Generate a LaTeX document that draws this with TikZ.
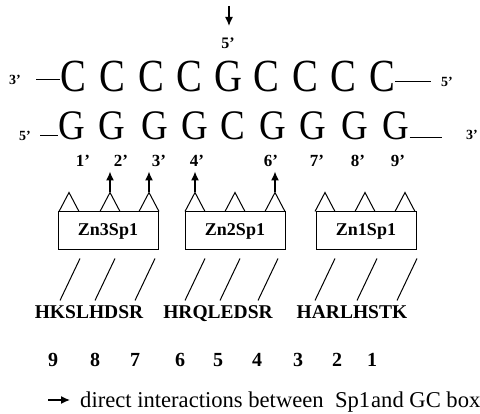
\documentclass[tikz,border=0pt]{standalone}
\usepackage{fontspec}
\setmainfont{Liberation Serif}
\usetikzlibrary{arrows.meta}
\tikzset{
  base/.style={inner sep=0pt, anchor=base, font=\fontsize{46}{46}\selectfont},
  baselow/.style={inner sep=0pt, anchor=base, font=\fontsize{42}{42}\selectfont},
  prime/.style={inner sep=0pt, anchor=base, font=\bfseries\fontsize{14}{14}\selectfont},
  poslabel/.style={inner sep=0pt, anchor=base, font=\bfseries\fontsize{17}{17}\selectfont},
  zbox/.style={draw, line width=1pt, minimum width=100pt, minimum height=38pt, inner sep=0pt, font=\bfseries\fontsize{18}{18}\selectfont},
  seq/.style={inner sep=0pt, anchor=base, font=\bfseries\fontsize{19.5}{19.5}\selectfont},
  resnum/.style={inner sep=0pt, anchor=base, font=\bfseries\fontsize{20}{20}\selectfont},
  legend/.style={inner sep=0pt, anchor=base west, font=\fontsize{22.6}{22.6}\selectfont},
  strand/.style={line width=1pt},
  tri/.style={line width=1pt, line join=miter},
  link/.style={line width=1pt},
  contact/.style={line width=1.4pt, -{Latex[length=9pt,width=8pt]}}
}
\begin{document}
\begin{tikzpicture}[x=1pt,y=-1pt]
\useasboundingbox (0,0) rectangle (480,414);
% top arrow and 5'
\coordinate (topA) at (229,6);
\coordinate (topB) at (229,26);
\draw[contact] (topA) -- (topB);
\node[prime, font=\bfseries\fontsize{16}{16}\selectfont] (top5) at (228,49) {5'};
% upper strand
\node[prime] (u3) at (15,85) {3'};
\foreach \x/\l [count=\i] in {73/C,112/C,151/C,189/C,228/G,266/C,305/C,343/C,382/C} {
  \node[base] (u\i) at (\x,92) {\scalebox{0.84}[1]{\l}};
}
\node[prime] (u5) at (447,87) {5'};
\coordinate (ul0) at (36,80);
\draw[strand] (ul0) -- (u1.west |- ul0);
\coordinate (ur0) at (431,82);
\draw[strand] (u9.east |- ur0) -- (ur0);
% lower strand
\node[prime] (l5) at (25,141) {5'};
\foreach \x/\l [count=\i] in {72/G,112/G,155/G,195/G,233/C,273/G,313/G,355/G,396/G} {
  \node[baselow] (l\i) at (\x,140) {\scalebox{0.88}[1]{\l}};
}
\node[prime] (l3) at (472,140) {3'};
\coordinate (ll0) at (40,136);
\draw[strand] (ll0) -- (l1.west |- ll0);
\coordinate (lr0) at (442,138);
\draw[strand] (l9.east |- lr0) -- (lr0);
% positions
\foreach \x/\l in {83/1,121/2,159/3,197/4,271/6,317/7,358/8,398/9} {
  \node[poslabel] (p\l) at (\x,167) {\l'};
}
% boxes
\node[zbox] (b1) at (108,231) {Zn3Sp1};
\node[zbox] (b2) at (235,231) {Zn2Sp1};
\node[zbox] (b3) at (366,231) {Zn1Sp1};
% fingers (triangles)
\foreach \b/\d [count=\k] in {b1/-39,b1/2,b1/41,b2/-40,b2/0,b2/40,b3/-41,b3/-1,b3/39} {
  \coordinate (f\k) at ([xshift=\d pt]\b.north);
  \draw[tri] ([xshift=-10pt]f\k) -- ([yshift=19pt]f\k) -- ([xshift=10pt]f\k);
  \coordinate (apex\k) at ([yshift=19pt]f\k);
}
% contacts
\foreach \k in {2,3,4,6} {
  \coordinate (tip\k) at ([yshift=21pt]apex\k);
  \draw[contact] (apex\k) -- (tip\k);
}
% links
\foreach \b/\d [count=\k] in {b1/-28,b1/7,b1/47,b2/-30,b2/5,b2/43,b3/-31,b3/11,b3/51} {
  \coordinate (la\k) at ([xshift={\d*1pt}, yshift=-8pt]\b.south);
  \coordinate (lb\k) at ([xshift={(\d-20)*1pt}, yshift=-50pt]\b.south);
  \draw[link] (la\k) -- (lb\k);
}
% sequences
\node[seq] (s1) at (89,319) {HKSLHDSR};
\node[seq] (s2) at (218,319) {HRQLEDSR};
\node[seq] (s3) at (352,319) {HARLHSTK};
% residue numbers
\foreach \x/\l in {53/9,95/8,135/7,180/6,218/5,257/4,298/3,337/2,372/1} {
  \node[resnum] (r\l) at (\x,367) {\l};
}
% legend
\coordinate (legA) at (48,400);
\coordinate (legB) at (70,400);
\draw[contact] (legA) -- (legB);
\node[legend] (leg) at (80,408) {direct interactions between\ \ Sp1\kern1pt and GC box};
\end{tikzpicture}
\end{document}
